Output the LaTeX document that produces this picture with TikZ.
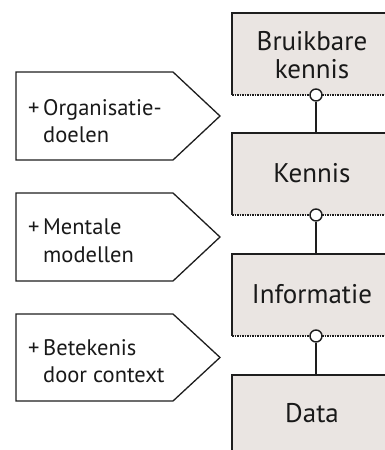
\documentclass[tikz,border=0pt]{standalone}
\usepackage{fontspec}
\setmainfont{PT Sans}
\definecolor{boxfill}{RGB}{234,229,226}
\definecolor{edge}{RGB}{30,30,30}
\begin{document}
\begin{tikzpicture}[x=1pt,y=1pt,
  layerbox/.style={fill=boxfill,draw=none},
  boxedge/.style={draw=edge,line width=1.6pt},
  baseedge/.style={draw=edge,line width=1.2pt,dash pattern=on 1.5pt off 1pt},
  tag/.style={draw=edge,line width=1.3pt,fill=white,line join=miter},
  boxtext/.style={font=\fontsize{27}{28.5}\selectfont,align=center,text=black!90},
  tagtext/.style={font=\fontsize{22.5}{27.5}\selectfont,align=left,anchor=west,inner sep=0pt,text=black!90},
  knob/.style={circle,draw=edge,line width=1.4pt,fill=white,minimum size=12pt,inner sep=0pt},
  link/.style={draw=edge,line width=1.5pt}]
\useasboundingbox (0,0) rectangle (385,-450);
\clip (0,0) rectangle (385,-450);
% boxes
\foreach \n/\t/\b in {b1/13/95, b2/133/215, b3/254/336, b4/375/457}{
  \fill[layerbox] (232,-\t) rectangle (400,-\b);
  \draw[boxedge] (400,-\t) -- (232,-\t) -- (232,-\b);
  \draw[baseedge] (232,-\b) -- (400,-\b);
  \coordinate (\n top) at (316,-\t);
}
\node[knob] (k1) at (316,-95) {};
\node[knob] (k2) at (316,-215) {};
\node[knob] (k3) at (316,-336) {};
\draw[link] (k1.south) -- (b2top);
\draw[link] (k2.south) -- (b3top);
\draw[link] (k3.south) -- (b4top);
\node[boxtext] (t1) at (312,-55) {Bruikbare\\kennis};
\node[boxtext,anchor=base] (t2) at (312,-182) {Kennis};
\node[boxtext,anchor=base] (t3) at (312,-303) {Informatie};
\node[boxtext,anchor=base] (t4) at (312,-422) {Data};
% tags
\foreach \n/\t/\b in {p1/72/160, p2/193/281, p3/314/401}{
  \draw[tag] (16,-\t) -- (173,-\t) -- (220,-{(\t+\b)/2}) -- (173,-\b) -- (16,-\b) -- cycle;
}
\node[tagtext] (l1) at (43,-121) {\llap{+\,}Organisatie-\\doelen};
\node[tagtext] (l2) at (43,-241) {\llap{+\,}Mentale\\modellen};
\node[tagtext] (l3) at (43,-361) {\llap{+\,}Betekenis\\door context};
\end{tikzpicture}
\end{document}
